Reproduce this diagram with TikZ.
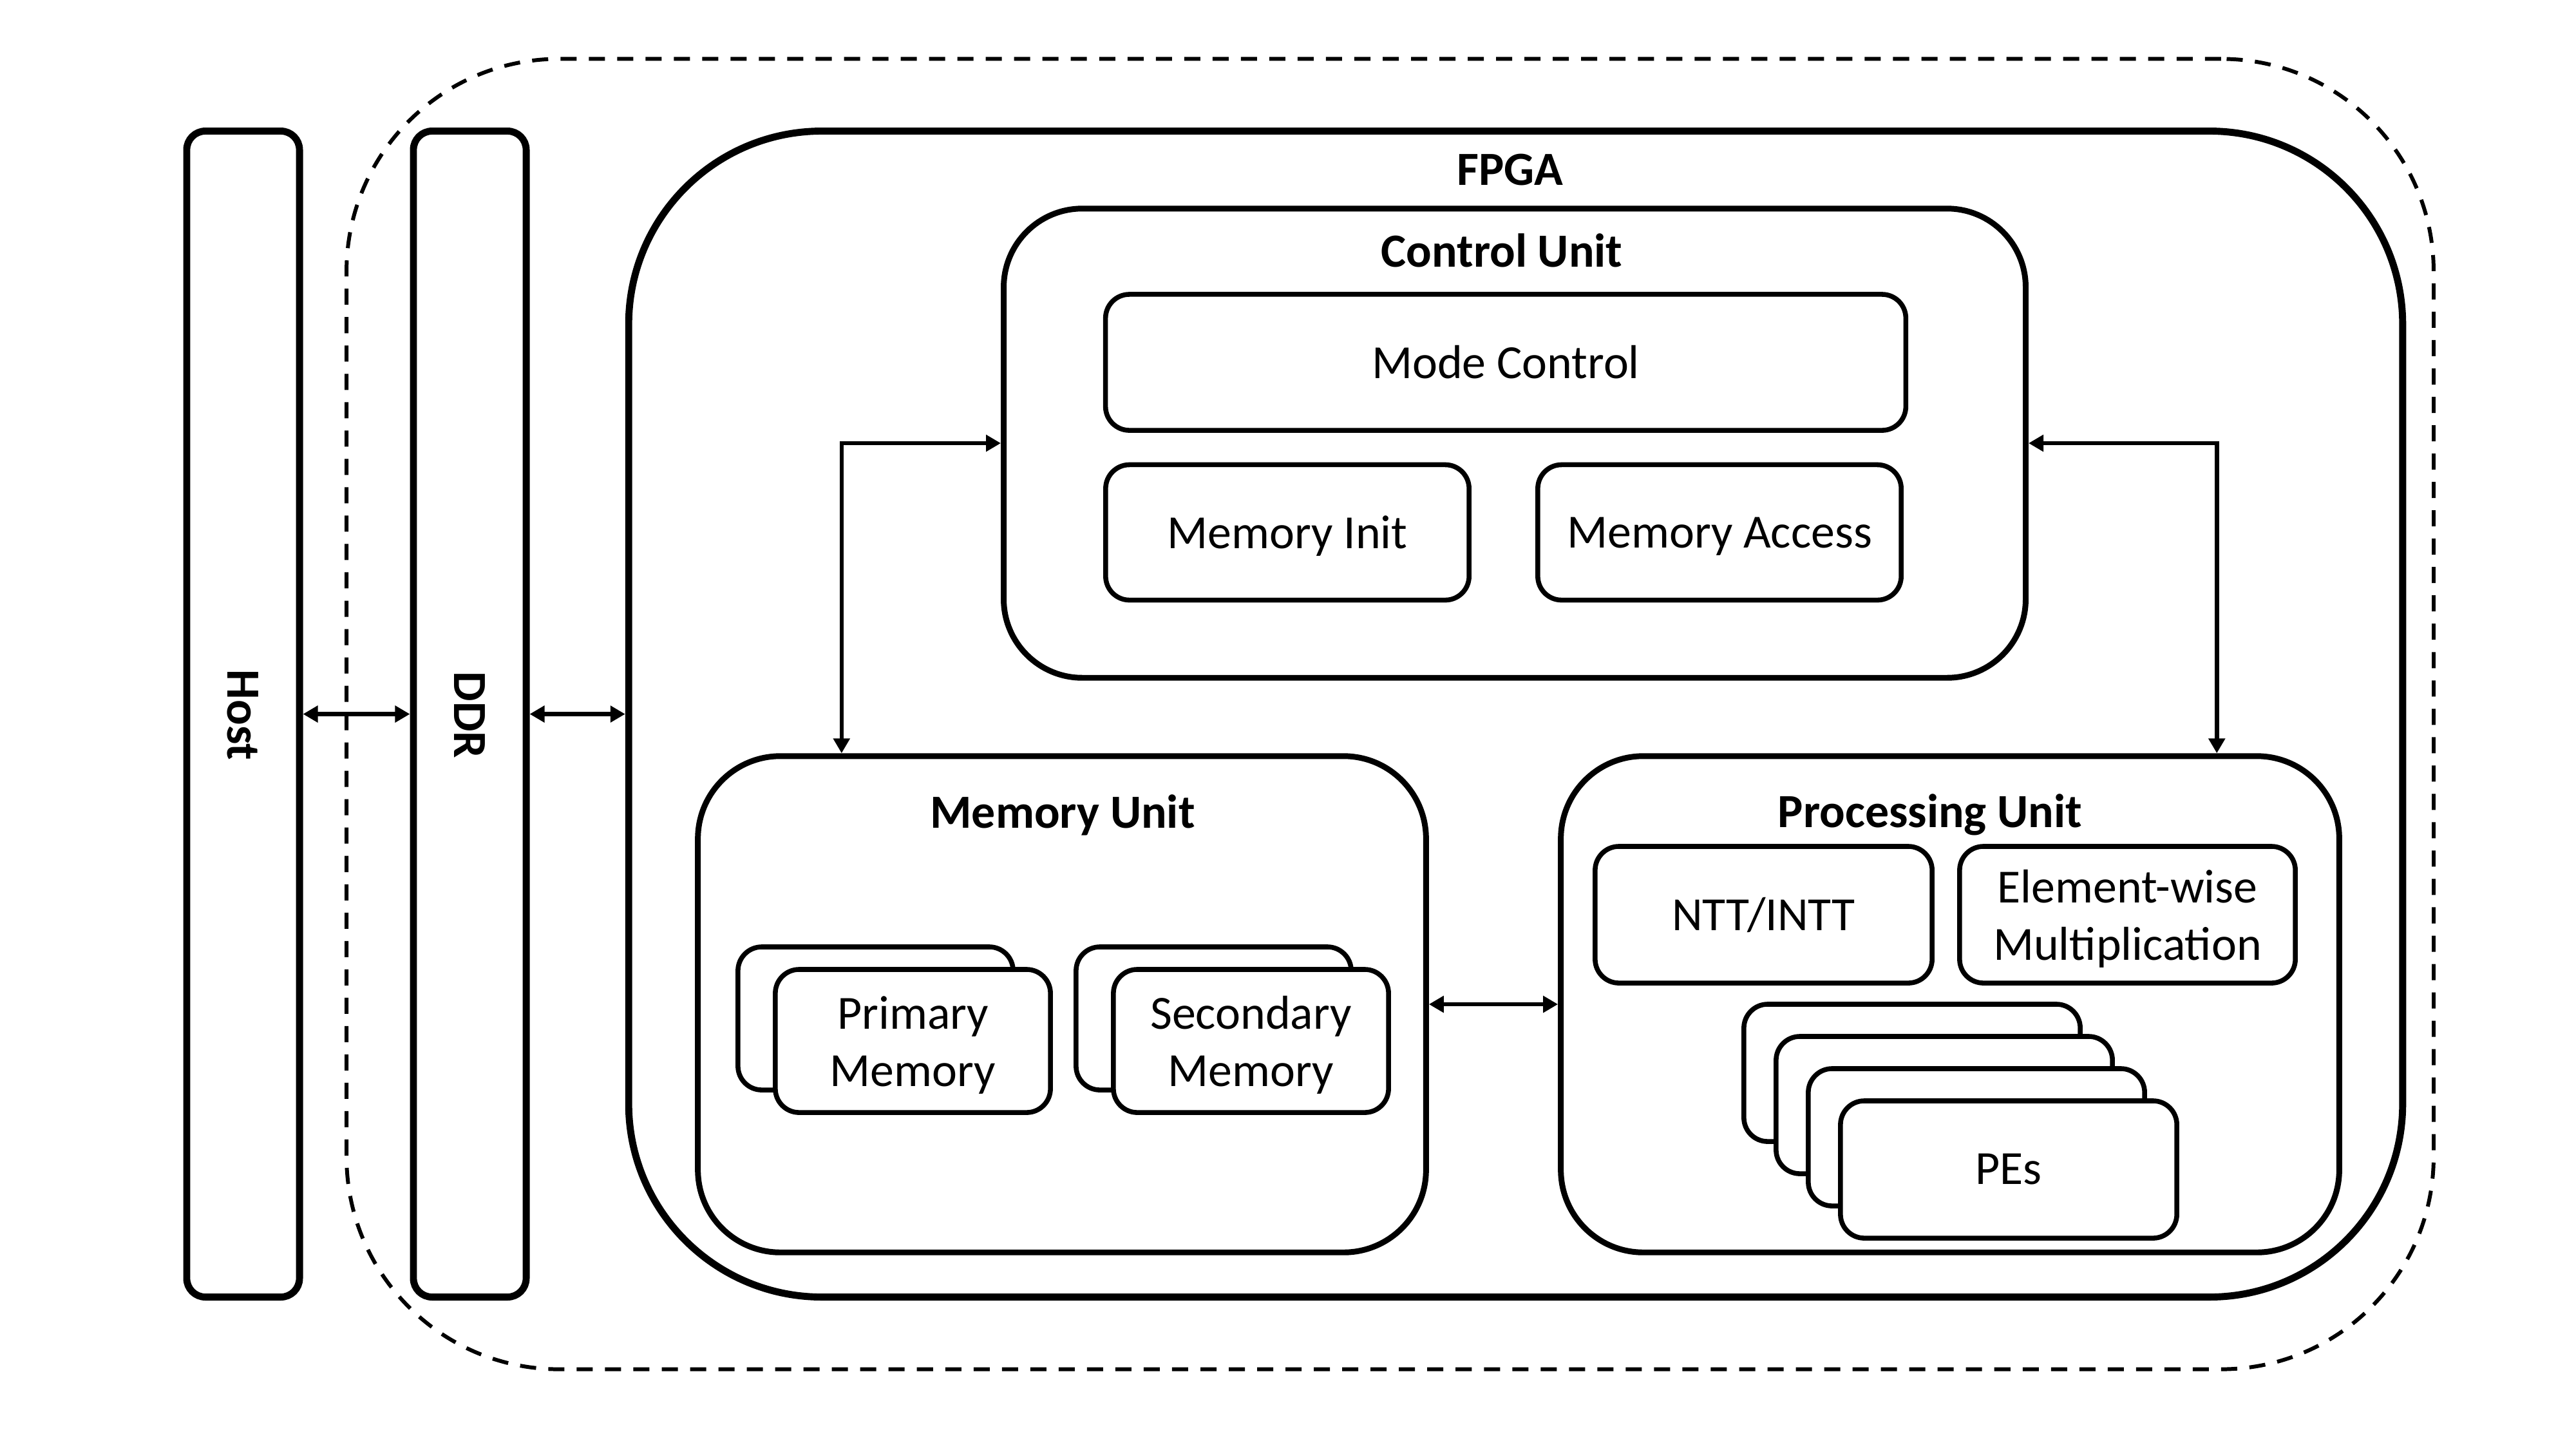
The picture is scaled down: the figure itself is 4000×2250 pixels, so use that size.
\documentclass[tikz,border=0pt]{standalone}
\usepackage{fontspec}
\setmainfont{Carlito}
\usetikzlibrary{arrows.meta}
\begin{document}
\begin{tikzpicture}[x=0.01cm,y=-0.01cm,
  font=\fontsize{21}{25.3}\selectfont,
  base/.style={draw, rectangle, inner sep=0pt, fill=white, align=center},
  big/.style={base, line width=3.1pt},
  mid/.style={base, line width=2.55pt},
  small/.style={base, line width=2.15pt, rounded corners=0.37cm},
  oneline/.style={text depth=0pt},
  ttl/.style={font=\fontsize{21}{25.3}\selectfont\bfseries, inner sep=0pt},
  tip/.tip={Triangle[length=0.23cm,width=0.25cm]},
  arr/.style={tip-tip, line width=1.85pt},
  dashbox/.style={draw, dash pattern=on 0.25cm off 0.19cm, line width=1.7pt, rounded corners=3.3cm, inner sep=0pt}
]
\useasboundingbox (0,0) rectangle (4000,2250);

% outer dashed region
\node[dashbox, minimum width=32.39cm, minimum height=20.33cm] (dash) at (2158.5,1108.5) {};

% Host and DDR
\node[big, rounded corners=0.29cm, minimum width=1.75cm, minimum height=18.09cm] (host) at (377.5,1108.5) {};
\node[ttl, rotate=-90] (hostt) at (377,1110) {Host};
\node[big, rounded corners=0.29cm, minimum width=1.75cm, minimum height=18.09cm] (ddr) at (729.5,1108.5) {};
\node[ttl, rotate=-90] (ddrt) at (729,1110) {DDR};

% FPGA
\node[big, rounded corners=3cm, minimum width=27.53cm, minimum height=18.09cm] (fpga) at (2353.5,1108.5) {};
\node[ttl] (fpgat) at (2345,264) {FPGA};

% Control Unit
\node[mid, rounded corners=1.22cm, minimum width=15.86cm, minimum height=7.28cm] (cu) at (2352,688) {};
\node[ttl] (cut) at (2332,389) {Control Unit};
\node[small, minimum width=12.42cm, minimum height=2.11cm] (mode) at (2338,562.5) {Mode Control};
\node[small, oneline, minimum width=5.64cm, minimum height=2.10cm] (minit) at (1999,826.5) {Memory Init};
\node[small, oneline, minimum width=5.64cm, minimum height=2.10cm] (macc) at (2670,826.5) {Memory Access};

% Memory Unit
\node[mid, rounded corners=1.28cm, minimum width=11.30cm, minimum height=7.70cm] (mu) at (1649,1559) {};
\node[ttl] (mut) at (1650,1265) {Memory Unit};
\node[small, minimum width=4.27cm, minimum height=2.22cm] (pmb) at (1359.5,1581) {};
\node[small, minimum width=4.27cm, minimum height=2.22cm] (pm) at (1417.5,1616) {\rule{0pt}{0.86em}Primary\\Memory};
\node[small, minimum width=4.27cm, minimum height=2.22cm] (smb) at (1884.5,1581) {};
\node[small, minimum width=4.27cm, minimum height=2.22cm] (sm) at (1942.5,1616) {\rule{0pt}{0.86em}Secondary\\Memory};

% Processing Unit
\node[mid, rounded corners=1.28cm, minimum width=12.08cm, minimum height=7.70cm] (pu) at (3028,1559) {};
\node[ttl] (put) at (2997,1265) {Processing Unit};
\node[small, minimum width=5.23cm, minimum height=2.12cm] (ntt) at (2738.5,1420) {NTT/INTT};
\node[small, minimum width=5.21cm, minimum height=2.12cm] (ew) at (3303.5,1420) {\rule{0pt}{0.86em}Element-wise\\Multiplication};
\node[small, minimum width=5.22cm, minimum height=2.13cm] (pe1) at (2969,1665.5) {};
\node[small, minimum width=5.22cm, minimum height=2.13cm] (pe2) at (3019,1715.5) {};
\node[small, minimum width=5.22cm, minimum height=2.13cm] (pe3) at (3069,1765.5) {};
\node[small, minimum width=5.22cm, minimum height=2.13cm] (pe4) at (3119,1815.5) {PEs};

% connectors
\draw[arr] (host.east) -- (ddr.west);
\draw[arr] (ddr.east) -- (fpga.west);
\draw[arr] (cu.west) -| ([xshift=-3.42cm]mu.north);
\draw[arr] (cu.east) -| ([xshift=4.14cm]pu.north);
\draw[arr] (mu.east) -- (pu.west);
\end{tikzpicture}
\end{document}
